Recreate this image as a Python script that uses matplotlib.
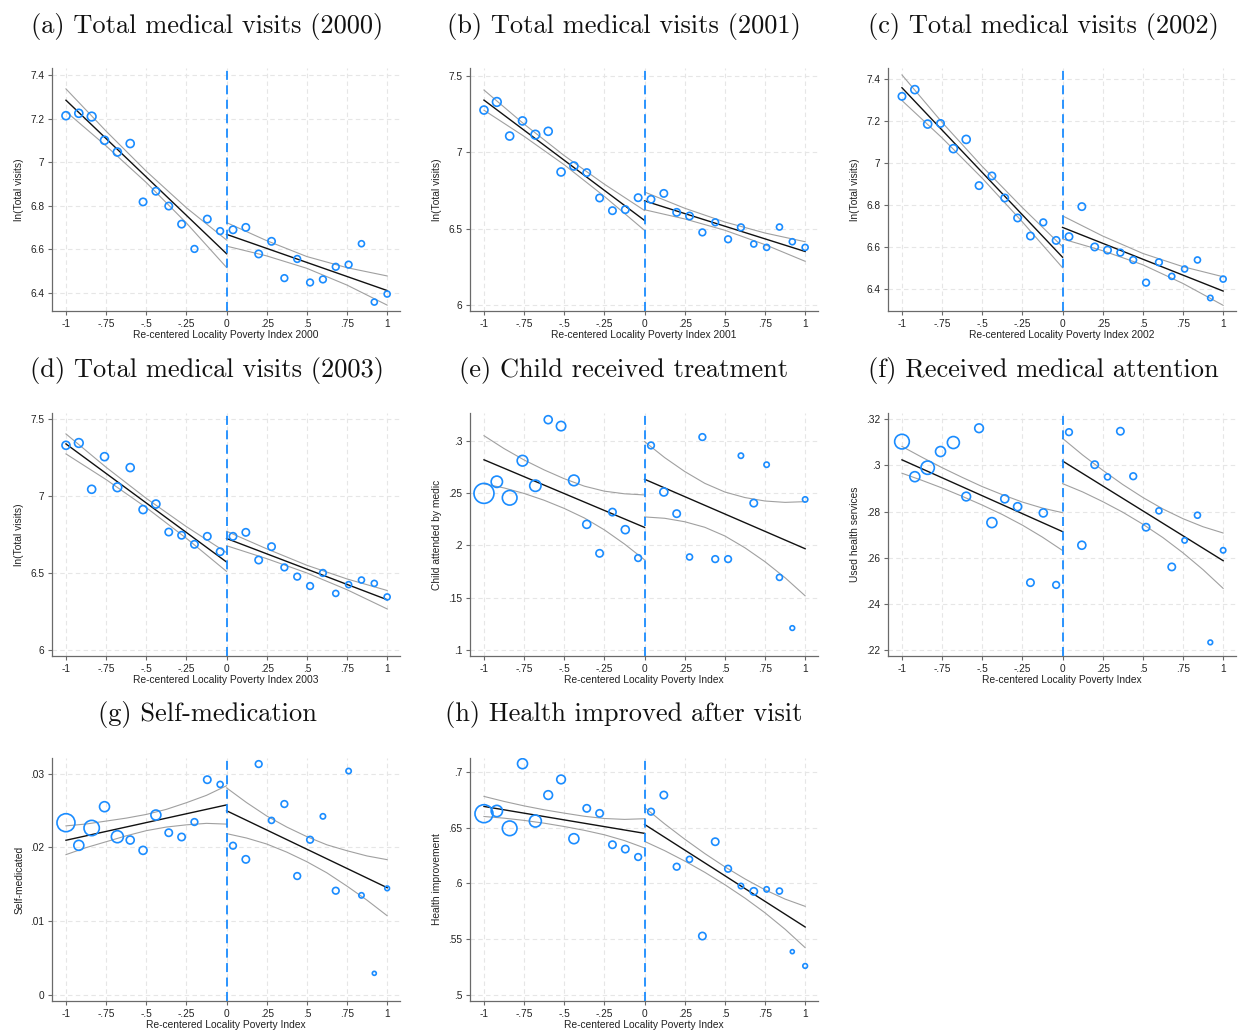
import numpy as np
import matplotlib
matplotlib.use("Agg")
import matplotlib.pyplot as plt

# ---------------------------------------------------------------- data
# bin midpoints of the re-centered poverty index
BIN_X = [-1.0, -0.92, -0.84, -0.76, -0.68, -0.60, -0.52, -0.44, -0.36, -0.28, -0.20, -0.12, -0.04,
         0.04, 0.12, 0.20, 0.28, 0.36, 0.44, 0.52, 0.60, 0.68, 0.76, 0.84, 0.92, 1.0]
CI5_LEFT = [-1.0, -0.75, -0.5, -0.25, 0.0]
CI5_RIGHT = [0.0, 0.25, 0.5, 0.75, 1.0]
CI9_LEFT = [-1.0, -0.875, -0.75, -0.625, -0.5, -0.375, -0.25, -0.125, 0.0]
CI9_RIGHT = [0.0, 0.125, 0.25, 0.375, 0.5, 0.625, 0.75, 0.875, 1.0]

# (a) total visits 2000
A_Y = [7.213, 7.224, 7.209, 7.100, 7.046, 7.085, 6.817, 6.866, 6.798, 6.715, 6.601, 6.738, 6.683,
       6.689, 6.700, 6.578, 6.636, 6.467, 6.555, 6.447, 6.461, 6.519, 6.529, 6.625, 6.357, 6.394]
A_W = [144, 144, 169, 144, 144, 144, 121, 121, 121, 121, 100, 121, 100,
       121, 121, 121, 121, 100, 100, 100, 100, 100, 100, 81, 81, 81]
A_FIT_L = [7.284, 6.579]
A_FIT_R = [6.668, 6.410]
A_UP_L = [7.336, 7.142, 6.958, 6.790, 6.642]
A_LO_L = [7.232, 7.074, 6.906, 6.720, 6.516]
A_UP_R = [6.722, 6.639, 6.566, 6.515, 6.477]
A_LO_R = [6.614, 6.569, 6.512, 6.435, 6.343]

# (b) total visits 2001
B_Y = [7.275, 7.328, 7.105, 7.204, 7.114, 7.136, 6.870, 6.909, 6.866, 6.700, 6.617, 6.624, 6.702,
       6.691, 6.730, 6.606, 6.582, 6.475, 6.541, 6.430, 6.508, 6.399, 6.377, 6.510, 6.414, 6.377]
B_W = [144, 169, 144, 144, 169, 144, 144, 144, 121, 121, 121, 121, 121,
       121, 121, 121, 121, 100, 100, 100, 100, 81, 81, 81, 81, 81]
B_FIT_L = [7.340, 6.553]
B_FIT_R = [6.681, 6.350]
B_UP_L = [7.406, 7.183, 6.977, 6.790, 6.618]
B_LO_L = [7.274, 7.103, 6.917, 6.710, 6.488]
B_UP_R = [6.739, 6.633, 6.543, 6.471, 6.414]
B_LO_R = [6.623, 6.563, 6.489, 6.395, 6.286]

# (c) total visits 2002
C_Y = [7.319, 7.351, 7.187, 7.190, 7.070, 7.114, 6.894, 6.940, 6.835, 6.740, 6.654, 6.719, 6.633,
       6.651, 6.794, 6.602, 6.587, 6.575, 6.540, 6.432, 6.529, 6.462, 6.497, 6.540, 6.359, 6.449]
C_W = [121, 144, 144, 121, 144, 144, 121, 121, 121, 121, 121, 100, 121,
       121, 121, 121, 121, 100, 100, 100, 100, 81, 81, 81, 64, 81]
C_FIT_L = [7.360, 6.553]
C_FIT_R = [6.695, 6.392]
C_UP_L = [7.421, 7.195, 6.985, 6.789, 6.603]
C_LO_L = [7.299, 7.121, 6.929, 6.721, 6.503]
C_UP_R = [6.750, 6.654, 6.571, 6.508, 6.460]
C_LO_R = [6.640, 6.584, 6.517, 6.428, 6.324]

# (d) total visits 2003
D_Y = [7.331, 7.346, 7.045, 7.257, 7.058, 7.186, 6.913, 6.949, 6.767, 6.746, 6.687, 6.739, 6.639,
       6.739, 6.765, 6.585, 6.672, 6.537, 6.477, 6.416, 6.501, 6.368, 6.425, 6.455, 6.433, 6.345]
D_W = [144, 169, 144, 144, 169, 144, 144, 144, 121, 121, 121, 121, 121,
       121, 121, 121, 121, 100, 100, 100, 100, 81, 81, 81, 81, 81]
D_FIT_L = [7.340, 6.572]
D_FIT_R = [6.725, 6.327]
D_UP_L = [7.405, 7.188, 6.986, 6.802, 6.633]
D_LO_L = [7.275, 7.108, 6.926, 6.726, 6.511]
D_UP_R = [6.772, 6.658, 6.551, 6.462, 6.387]
D_LO_R = [6.678, 6.594, 6.501, 6.392, 6.267]

# (e) child received treatment
E_Y = [0.2497, 0.2608, 0.2455, 0.2809, 0.2570, 0.3201, 0.3140, 0.2621, 0.2201, 0.1924, 0.2318, 0.2150, 0.1879,
       0.2955, 0.2510, 0.2303, 0.1889, 0.3035, 0.1869, 0.1869, 0.2857, 0.2404, 0.2771, 0.1694, 0.1210, 0.2439]
E_W = [900, 289, 484, 256, 289, 144, 196, 256, 144, 121, 121, 144, 100,
       100, 144, 121, 81, 100, 100, 100, 64, 121, 64, 81, 49, 64]
E_FIT_L = [0.2818, 0.2172]
E_FIT_R = [0.2632, 0.1968]
E_UP_L = [0.3048, 0.2925, 0.2816, 0.2721, 0.2637, 0.2566, 0.2518, 0.2493, 0.2482]
E_LO_L = [0.2588, 0.2549, 0.2496, 0.2431, 0.2353, 0.2262, 0.2148, 0.2013, 0.1862]
E_UP_R = [0.2992, 0.2839, 0.2706, 0.2593, 0.2510, 0.2457, 0.2424, 0.2411, 0.2418]
E_LO_R = [0.2272, 0.2259, 0.2226, 0.2173, 0.2090, 0.1977, 0.1844, 0.1691, 0.1518]

# (f) received medical attention
F_Y = [0.3103, 0.2951, 0.2990, 0.3060, 0.3099, 0.2865, 0.3161, 0.2752, 0.2855, 0.2821, 0.2492, 0.2794, 0.2482,
       0.3144, 0.2654, 0.3003, 0.2950, 0.3148, 0.2953, 0.2732, 0.2803, 0.2560, 0.2675, 0.2784, 0.2233, 0.2632]
F_W = [484, 225, 400, 225, 324, 169, 169, 225, 144, 144, 121, 144, 100,
       100, 144, 121, 81, 121, 100, 121, 81, 121, 64, 81, 49, 64]
F_FIT_L = [0.3024, 0.2713]
F_FIT_R = [0.3019, 0.2587]
F_UP_L = [0.3082, 0.3035, 0.2990, 0.2948, 0.2908, 0.2873, 0.2841, 0.2815, 0.2795]
F_LO_L = [0.2966, 0.2935, 0.2902, 0.2866, 0.2828, 0.2787, 0.2741, 0.2689, 0.2631]
F_UP_R = [0.3117, 0.3045, 0.2979, 0.2917, 0.2861, 0.2811, 0.2769, 0.2734, 0.2707]
F_LO_R = [0.2921, 0.2885, 0.2843, 0.2797, 0.2745, 0.2687, 0.2621, 0.2548, 0.2467]

# (g) self-medication
G_Y = [0.02336, 0.02029, 0.02264, 0.02553, 0.02146, 0.02101, 0.01961, 0.02440, 0.02200, 0.02142, 0.02345, 0.02919, 0.02855,
       0.02024, 0.01839, 0.03131, 0.02367, 0.02589, 0.01613, 0.02105, 0.02422, 0.01414, 0.03036, 0.01351, 0.00294, 0.01446]
G_W = [729, 225, 529, 225, 324, 144, 144, 225, 121, 121, 100, 121, 81,
       100, 121, 100, 81, 100, 100, 100, 64, 100, 64, 64, 36, 49]
G_FIT_L = [0.02098, 0.02577]
G_FIT_R = [0.02498, 0.01455]
G_UP_L = [0.02293, 0.02318, 0.02358, 0.02398, 0.02448, 0.02517, 0.02607, 0.02707, 0.02837]
G_LO_L = [0.01903, 0.01998, 0.02078, 0.02158, 0.02228, 0.02277, 0.02307, 0.02327, 0.02317]
G_UP_R = [0.02808, 0.02608, 0.02427, 0.02277, 0.02147, 0.02036, 0.01956, 0.01885, 0.01835]
G_LO_R = [0.02188, 0.02128, 0.02047, 0.01937, 0.01807, 0.01656, 0.01476, 0.01285, 0.01075]

# (h) health improved after visit
H_Y = [0.6624, 0.6648, 0.6493, 0.7072, 0.6558, 0.6791, 0.6931, 0.6400, 0.6672, 0.6627, 0.6346, 0.6307, 0.6236,
       0.6642, 0.6791, 0.6149, 0.6215, 0.5528, 0.6373, 0.6131, 0.5976, 0.5928, 0.5946, 0.5931, 0.5388, 0.5260]
H_W = [729, 289, 484, 225, 324, 169, 169, 225, 121, 121, 121, 121, 100,
       100, 121, 100, 81, 121, 121, 100, 64, 121, 64, 81, 36, 49]
H_FIT_L = [0.6689, 0.6448]
H_FIT_R = [0.6528, 0.5609]
H_UP_L = [0.6779, 0.6734, 0.6694, 0.6659, 0.6629, 0.6601, 0.6581, 0.6573, 0.6579]
H_LO_L = [0.6599, 0.6584, 0.6564, 0.6539, 0.6509, 0.6475, 0.6435, 0.6383, 0.6317]
H_UP_R = [0.6680, 0.6533, 0.6396, 0.6267, 0.6148, 0.6040, 0.5942, 0.5859, 0.5794]
H_LO_R = [0.6376, 0.6293, 0.6200, 0.6099, 0.5988, 0.5868, 0.5736, 0.5589, 0.5424]

TITLES = ["(a) Total medical visits (2000)", "(b) Total medical visits (2001)",
          "(c) Total medical visits (2002)", "(d) Total medical visits (2003)",
          "(e) Child received treatment", "(f) Received medical attention",
          "(g) Self-medication", "(h) Health improved after visit"]
YLABELS = ["ln(Total visits)"] * 4 + ["Child attended by medic", "Used health services",
                                      "Self-medicated", "Health improvement"]
XLABELS = ["Re-centered Locality Poverty Index 2000", "Re-centered Locality Poverty Index 2001",
           "Re-centered Locality Poverty Index 2002", "Re-centered Locality Poverty Index 2003"] + \
          ["Re-centered Locality Poverty Index"] * 4
X_TICKS = [-1, -0.75, -0.5, -0.25, 0, 0.25, 0.5, 0.75, 1]
Y_TICKS = [[6.4, 6.6, 6.8, 7.0, 7.2, 7.4], [6.0, 6.5, 7.0, 7.5], [6.4, 6.6, 6.8, 7.0, 7.2, 7.4],
           [6.0, 6.5, 7.0, 7.5], [0.1, 0.15, 0.2, 0.25, 0.3], [0.22, 0.24, 0.26, 0.28, 0.30, 0.32],
           [0.0, 0.01, 0.02, 0.03], [0.5, 0.55, 0.6, 0.65, 0.7]]
Y_LIMS = [(6.316, 7.432), (5.961, 7.55), (6.297, 7.454), (5.961, 7.541),
          (0.0943, 0.3265), (0.2174, 0.3227), (-0.00081, 0.03213), (0.4946, 0.7123)]

PANELS = [
    (A_Y, A_W, A_FIT_L, A_FIT_R, A_UP_L, A_LO_L, A_UP_R, A_LO_R),
    (B_Y, B_W, B_FIT_L, B_FIT_R, B_UP_L, B_LO_L, B_UP_R, B_LO_R),
    (C_Y, C_W, C_FIT_L, C_FIT_R, C_UP_L, C_LO_L, C_UP_R, C_LO_R),
    (D_Y, D_W, D_FIT_L, D_FIT_R, D_UP_L, D_LO_L, D_UP_R, D_LO_R),
    (E_Y, E_W, E_FIT_L, E_FIT_R, E_UP_L, E_LO_L, E_UP_R, E_LO_R),
    (F_Y, F_W, F_FIT_L, F_FIT_R, F_UP_L, F_LO_L, F_UP_R, F_LO_R),
    (G_Y, G_W, G_FIT_L, G_FIT_R, G_UP_L, G_LO_L, G_UP_R, G_LO_R),
    (H_Y, H_W, H_FIT_L, H_FIT_R, H_UP_L, H_LO_L, H_UP_R, H_LO_R),
]

# ---------------------------------------------------------------- style
BLUE = "#1a8cff"
GRID = "#e6e6e6"
CI = "#a0a0a0"
SPINE = "#6a6a6a"
INK = "#222222"
W, H = 1238, 1031

plt.rcParams.update({
    "font.family": ["Liberation Sans", "DejaVu Sans"],
    "font.size": 7.3,
    "axes.unicode_minus": False,
})


def stata_fmt(v):
    s = f"{round(v, 4):g}"
    if s == "0":
        return s
    return s.replace("-0.", "-.").replace("0.", ".")


fig = plt.figure(figsize=(W / 100, H / 100), dpi=100)

COL_LEFT = [52, 470, 888]
ROW_BOX = [(68, 311), (413, 656), (758, 1001)]
AX_W = 348
TITLE_X = [207, 624, 1043]
TITLE_Y = [26, 371, 715]

for i, (ys, ws, fl, fr, ul, ll, ur, lr) in enumerate(PANELS):
    r, c = divmod(i, 3)
    top, bot = ROW_BOX[r]
    ax = fig.add_axes([COL_LEFT[c] / W, 1 - bot / H, AX_W / W, (bot - top) / H])
    cx_l, cx_r = (CI5_LEFT, CI5_RIGHT) if len(ul) == 5 else (CI9_LEFT, CI9_RIGHT)

    ax.set_xlim(-1.087, 1.08)
    ax.set_ylim(*Y_LIMS[i])
    ax.set_xticks(X_TICKS)
    ax.set_xticklabels([stata_fmt(t) for t in X_TICKS])
    ax.set_yticks(Y_TICKS[i])
    ax.set_yticklabels([stata_fmt(t) for t in Y_TICKS[i]])
    ax.grid(True, color=GRID, linestyle=(0, (4, 3)), linewidth=0.8)
    ax.set_axisbelow(True)
    for s in ("top", "right"):
        ax.spines[s].set_visible(False)
    for s in ("left", "bottom"):
        ax.spines[s].set_color(SPINE)
        ax.spines[s].set_linewidth(0.9)
    ax.tick_params(direction="out", length=3, width=0.8, color=SPINE,
                   labelsize=7.3, pad=2.5, labelcolor=INK)

    # confidence bands and linear fits on each side of the cutoff
    for xs, band in ((cx_l, ul), (cx_l, ll), (cx_r, ur), (cx_r, lr)):
        ax.plot(xs, band, color=CI, lw=0.8, zorder=2, solid_joinstyle="round")
    ax.plot([cx_l[0], cx_l[-1]], fl, color="#111111", lw=1.0, zorder=3)
    ax.plot([cx_r[0], cx_r[-1]], fr, color="#111111", lw=1.0, zorder=3)

    sizes = np.array(ws) / 100 * 23.0
    ax.scatter(BIN_X, ys, s=sizes, facecolors="none", edgecolors=BLUE,
               linewidths=1.2, zorder=4)
    ax.axvline(0, color=BLUE, linestyle=(0, (5, 3)), linewidth=1.3, zorder=5)

    ax.set_xlabel(XLABELS[i], fontsize=7.4, color=INK)
    ax.set_ylabel(YLABELS[i], fontsize=7.4, color=INK)
    ax.xaxis.set_label_coords(0.5, -0.08)
    ax.yaxis.set_label_coords(-0.08, 0.5)

    fig.text(TITLE_X[c] / W, 1 - TITLE_Y[r] / H, TITLES[i], family="cmr10",
             fontsize=19, ha="center", va="center", color="#111111")

fig.savefig("out.png", dpi=100)
